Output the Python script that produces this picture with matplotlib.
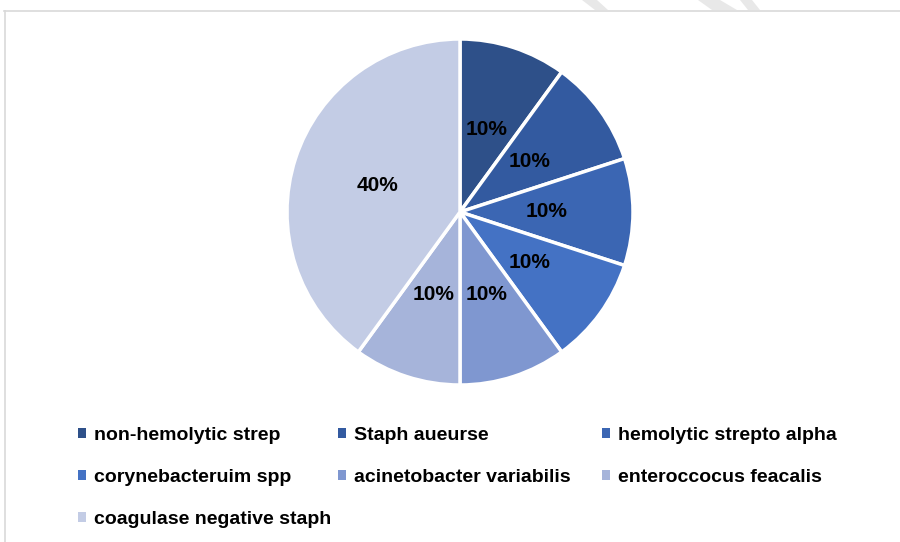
import matplotlib
matplotlib.use("Agg")
import matplotlib.pyplot as plt
from matplotlib.lines import Line2D
from matplotlib.patches import Patch, Polygon

categories = ["non-hemolytic strep", "Staph aueurse", "hemolytic strepto alpha",
              "corynebacteruim spp", "acinetobacter variabilis", "enteroccocus feacalis",
              "coagulase negative staph"]
values = [10, 10, 10, 10, 10, 10, 40]
colors = ["#2E5089", "#335AA0", "#3B66B3", "#4472C4", "#7F97D0", "#A6B4DA", "#C3CCE5"]

fig = plt.figure(figsize=(9, 5.42), dpi=100)
W, H = 900, 542
cx, cy, r = 460, 212, 173
ax = fig.add_axes([(cx - r) / W, (H - cy - r) / H, 2 * r / W, 2 * r / H])
wedges, texts, autotexts = ax.pie(
    values, colors=colors, startangle=90, counterclock=False,
    autopct=lambda p: f"{p:.0f}%", pctdistance=0.5, radius=1,
    wedgeprops=dict(edgecolor="white", linewidth=2.5),
    textprops=dict(fontsize=15, fontweight="bold", color="black", family="Liberation Sans"))
ax.set_xlim(-1.0, 1.0)
ax.set_ylim(-1.0, 1.0)
ax.set_aspect("equal")
ax.axis("off")

# legend: three columns placed like the original
cols = [[0, 3, 6], [1, 4], [2, 5]]
col_x = [78, 338, 602]
for ci, idxs in enumerate(cols):
    handles = [Patch(facecolor=colors[i], edgecolor="none") for i in idxs]
    labels = [categories[i] for i in idxs]
    fig.legend(handles, labels, loc="upper left",
               bbox_to_anchor=(col_x[ci] / W, 1 - 427 / H),
               frameon=False, handlelength=0.42, handleheight=0.42,
               handletextpad=0.38, labelspacing=1.28, borderaxespad=0, borderpad=0,
               prop=dict(family="Liberation Sans", weight="bold", size=14))

# chart area border (top and left)
fig.add_artist(Line2D([4 / W, 1], [1 - 10.5 / H, 1 - 10.5 / H], color="#D9D9D9", lw=1.2))
fig.add_artist(Line2D([4.5 / W, 4.5 / W], [0, 1 - 10.5 / H], color="#D9D9D9", lw=1.2))

# faint watermark strips at the top
for (a, b, c, d) in [(582, 597, 608, 595), (698, 720, 737, 712), (740, 752, 760, 748)]:
    poly = Polygon([(a / W, 1), (b / W, 1), (c / W, 1 - 10 / H), (d / W, 1 - 10 / H)],
                   closed=True, facecolor="#E8E8E8", edgecolor="none",
                   transform=fig.transFigure)
    fig.add_artist(poly)

fig.savefig("out.png", dpi=100)
